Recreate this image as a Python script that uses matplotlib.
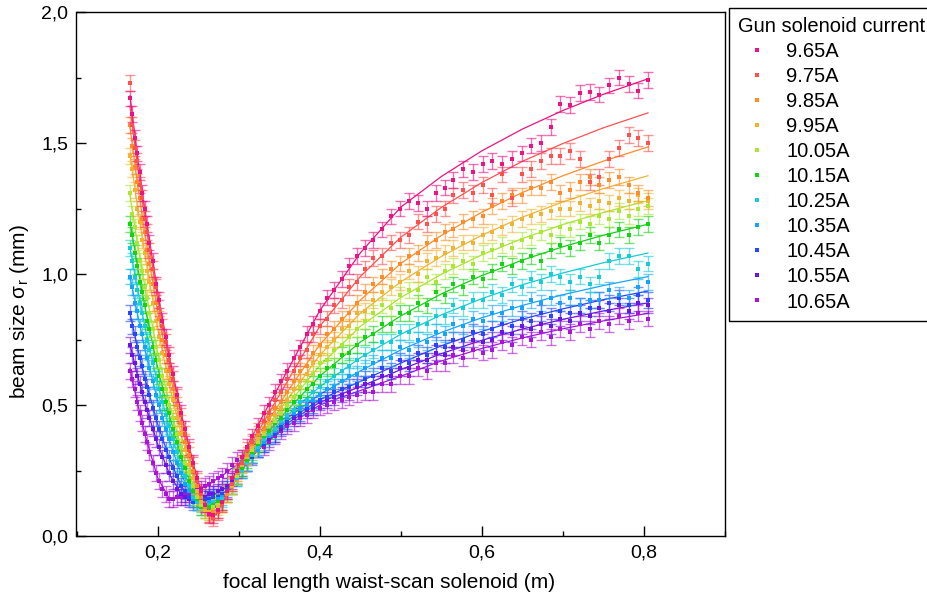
import matplotlib
matplotlib.use("Agg")
import matplotlib.pyplot as plt
from matplotlib.ticker import FixedLocator, MultipleLocator
from matplotlib.lines import Line2D

plt.rcParams['font.family'] = ['Liberation Sans', 'DejaVu Sans']
plt.rcParams['mathtext.fontset'] = 'custom'
plt.rcParams['mathtext.rm'] = 'Liberation Sans'

# ---------------- data ----------------
currents = ["9.65A", "9.75A", "9.85A", "9.95A", "10.05A", "10.15A",
            "10.25A", "10.35A", "10.45A", "10.55A", "10.65A"]
colors = ["#EB1482", "#FF5050", "#FF8C28", "#F0B432", "#AAE632", "#14D214",
          "#14CDD7", "#14A5FA", "#2846FA", "#6E14E1", "#AA14D7"]

x = [0.166, 0.169, 0.172, 0.175, 0.178, 0.181, 0.184, 0.187, 0.190, 0.194, 0.198, 0.202, 0.206, 0.210, 0.214,
     0.219, 0.224, 0.229, 0.234, 0.239, 0.244, 0.249, 0.254, 0.259, 0.264, 0.269, 0.274,
     0.280, 0.286, 0.292, 0.298, 0.304, 0.310, 0.317, 0.324, 0.331, 0.338, 0.345, 0.352,
     0.360, 0.368, 0.376, 0.384, 0.392, 0.400, 0.409, 0.418, 0.427, 0.436, 0.446, 0.456,
     0.466, 0.477, 0.488, 0.499, 0.510, 0.521, 0.532, 0.543, 0.554, 0.565, 0.577, 0.589, 0.601,
     0.613, 0.625, 0.637, 0.649, 0.661, 0.673, 0.685, 0.697, 0.709, 0.721, 0.733, 0.745, 0.757, 0.769, 0.781, 0.793, 0.805]

y_965 = [1.67, 1.61, 1.52, 1.46, 1.39, 1.31, 1.25, 1.19, 1.12, 1.05, 0.96, 0.90, 0.82, 0.76, 0.69,
         0.62, 0.54, 0.47, 0.41, 0.34, 0.28, 0.22, 0.17, 0.12, 0.085, 0.08, 0.10,
         0.13, 0.17, 0.22, 0.25, 0.30, 0.34, 0.38, 0.42, 0.47, 0.50, 0.55, 0.59,
         0.63, 0.68, 0.72, 0.77, 0.81, 0.86, 0.91, 0.94, 0.98, 1.03, 1.07, 1.10,
         1.13, 1.17, 1.22, 1.25, 1.28, 1.27, 1.25, 1.31, 1.33, 1.36, 1.40, 1.39, 1.42,
         1.43, 1.42, 1.44, 1.46, 1.49, 1.50, 1.56, 1.65, 1.645, 1.69, 1.695, 1.685, 1.72, 1.75, 1.725, 1.70, 1.74]
y_975 = [1.73, 1.57, 1.48, 1.43, 1.34, 1.29, 1.21, 1.16, 1.09, 1.02, 0.95, 0.87, 0.80, 0.74, 0.67,
         0.60, 0.53, 0.46, 0.39, 0.33, 0.27, 0.21, 0.16, 0.12, 0.08, 0.07, 0.09,
         0.12, 0.17, 0.20, 0.25, 0.28, 0.33, 0.36, 0.40, 0.44, 0.47, 0.52, 0.55,
         0.60, 0.63, 0.68, 0.71, 0.77, 0.80, 0.83, 0.88, 0.90, 0.95, 0.97, 1.02,
         1.06, 1.07, 1.12, 1.13, 1.15, 1.20, 1.19, 1.23, 1.25, 1.30, 1.32, 1.31, 1.34,
         1.30, 1.38, 1.29, 1.38, 1.40, 1.43, 1.45, 1.45, 1.47, 1.44, 1.35, 1.37, 1.44, 1.48, 1.53, 1.52, 1.50]
y_985 = [1.57, 1.49, 1.41, 1.35, 1.29, 1.21, 1.16, 1.09, 1.04, 0.96, 0.89, 0.83, 0.75, 0.69, 0.63,
         0.56, 0.50, 0.43, 0.36, 0.31, 0.25, 0.19, 0.15, 0.11, 0.08, 0.09, 0.10,
         0.12, 0.16, 0.20, 0.24, 0.28, 0.31, 0.35, 0.39, 0.41, 0.45, 0.49, 0.51,
         0.55, 0.59, 0.63, 0.65, 0.70, 0.73, 0.77, 0.79, 0.83, 0.85, 0.89, 0.93,
         0.96, 0.99, 1.02, 1.04, 1.07, 1.08, 1.12, 1.13, 1.16, 1.17, 1.20, 1.21, 1.22,
         1.26, 1.28, 1.30, 1.30, 1.33, 1.33, 1.35, 1.31, 1.32, 1.35, 1.37, 1.34, 1.36, 1.37, 1.34, 1.31, 1.29]
y_995 = [1.45, 1.40, 1.32, 1.25, 1.20, 1.13, 1.08, 1.01, 0.97, 0.89, 0.82, 0.76, 0.70, 0.63, 0.58,
         0.52, 0.45, 0.39, 0.33, 0.27, 0.22, 0.17, 0.13, 0.10, 0.09, 0.10, 0.11,
         0.12, 0.16, 0.19, 0.24, 0.27, 0.30, 0.34, 0.37, 0.40, 0.43, 0.46, 0.49,
         0.52, 0.56, 0.59, 0.62, 0.66, 0.69, 0.72, 0.75, 0.79, 0.80, 0.85, 0.86,
         0.90, 0.93, 0.95, 0.97, 1.01, 1.00, 1.05, 1.06, 1.08, 1.10, 1.12, 1.12, 1.15,
         1.16, 1.18, 1.19, 1.21, 1.22, 1.23, 1.24, 1.25, 1.25, 1.27, 1.26, 1.28, 1.27, 1.29, 1.28, 1.30, 1.28]
y_1005 = [1.31, 1.23, 1.18, 1.12, 1.05, 1.01, 0.95, 0.91, 0.85, 0.79, 0.72, 0.67, 0.61, 0.56, 0.50,
          0.45, 0.39, 0.34, 0.28, 0.24, 0.19, 0.15, 0.12, 0.10, 0.09, 0.11, 0.12,
          0.13, 0.16, 0.19, 0.23, 0.27, 0.30, 0.33, 0.36, 0.39, 0.42, 0.44, 0.47,
          0.50, 0.53, 0.57, 0.59, 0.62, 0.66, 0.67, 0.71, 0.73, 0.76, 0.79, 0.82,
          0.85, 0.88, 0.87, 0.92, 0.94, 0.94, 0.99, 0.97, 1.01, 1.03, 1.05, 1.04, 1.08,
          1.09, 1.11, 1.10, 1.13, 1.14, 1.16, 1.15, 1.18, 1.17, 1.20, 1.19, 1.22, 1.21, 1.24, 1.22, 1.25, 1.26]
y_1015 = [1.19, 1.15, 1.08, 1.03, 0.97, 0.93, 0.88, 0.82, 0.79, 0.72, 0.67, 0.61, 0.56, 0.51, 0.47,
          0.41, 0.36, 0.30, 0.26, 0.21, 0.17, 0.14, 0.11, 0.10, 0.11, 0.12, 0.13,
          0.13, 0.16, 0.19, 0.23, 0.26, 0.29, 0.32, 0.35, 0.38, 0.40, 0.43, 0.45,
          0.48, 0.51, 0.53, 0.56, 0.58, 0.61, 0.64, 0.65, 0.69, 0.70, 0.73, 0.76,
          0.77, 0.81, 0.81, 0.85, 0.85, 0.89, 0.88, 0.93, 0.92, 0.96, 0.95, 0.99, 0.98,
          1.01, 1.04, 1.03, 1.05, 1.07, 1.05, 1.09, 1.11, 1.10, 1.12, 1.15, 1.12, 1.15, 1.17, 1.15, 1.18, 1.19]
y_1025 = [1.10, 1.05, 0.99, 0.94, 0.89, 0.85, 0.80, 0.75, 0.71, 0.66, 0.60, 0.56, 0.51, 0.46, 0.42,
          0.37, 0.32, 0.27, 0.23, 0.19, 0.15, 0.13, 0.11, 0.11, 0.12, 0.13, 0.13,
          0.14, 0.17, 0.19, 0.22, 0.25, 0.28, 0.31, 0.34, 0.37, 0.39, 0.41, 0.44,
          0.46, 0.48, 0.51, 0.52, 0.55, 0.57, 0.59, 0.61, 0.63, 0.65, 0.67, 0.69,
          0.71, 0.74, 0.74, 0.78, 0.78, 0.81, 0.81, 0.84, 0.84, 0.88, 0.87, 0.90, 0.90,
          0.93, 0.92, 0.96, 0.95, 0.98, 0.97, 1.00, 0.99, 0.97, 0.99, 0.96, 0.99, 1.05, 1.07, 1.07, 1.02, 1.04]
y_1035 = [0.99, 0.95, 0.89, 0.86, 0.80, 0.77, 0.72, 0.68, 0.64, 0.59, 0.54, 0.50, 0.45, 0.41, 0.37,
          0.32, 0.28, 0.24, 0.20, 0.17, 0.14, 0.13, 0.12, 0.12, 0.13, 0.13, 0.14,
          0.15, 0.17, 0.19, 0.22, 0.25, 0.28, 0.31, 0.33, 0.36, 0.38, 0.40, 0.43,
          0.45, 0.47, 0.49, 0.50, 0.52, 0.54, 0.56, 0.57, 0.59, 0.61, 0.62, 0.64,
          0.66, 0.68, 0.68, 0.72, 0.71, 0.75, 0.74, 0.78, 0.77, 0.81, 0.80, 0.83, 0.82,
          0.85, 0.85, 0.87, 0.87, 0.90, 0.89, 0.91, 0.89, 0.91, 0.88, 0.90, 0.90, 0.94, 0.92, 0.91, 0.95, 0.97]
y_1045 = [0.85, 0.80, 0.77, 0.72, 0.68, 0.65, 0.60, 0.57, 0.54, 0.49, 0.45, 0.41, 0.37, 0.33, 0.30,
          0.26, 0.23, 0.19, 0.17, 0.15, 0.13, 0.13, 0.13, 0.14, 0.14, 0.15, 0.15,
          0.16, 0.18, 0.20, 0.23, 0.25, 0.28, 0.30, 0.33, 0.35, 0.38, 0.39, 0.42,
          0.44, 0.46, 0.47, 0.49, 0.50, 0.52, 0.53, 0.55, 0.56, 0.57, 0.58, 0.60,
          0.61, 0.64, 0.63, 0.67, 0.66, 0.70, 0.69, 0.73, 0.72, 0.75, 0.75, 0.78, 0.77,
          0.79, 0.81, 0.80, 0.83, 0.82, 0.85, 0.84, 0.86, 0.85, 0.88, 0.87, 0.90, 0.89, 0.91, 0.88, 0.92, 0.90]
y_1055 = [0.73, 0.69, 0.66, 0.61, 0.58, 0.55, 0.51, 0.48, 0.45, 0.41, 0.37, 0.34, 0.30, 0.27, 0.24,
          0.21, 0.18, 0.16, 0.15, 0.14, 0.14, 0.14, 0.15, 0.15, 0.16, 0.16, 0.17,
          0.18, 0.19, 0.21, 0.23, 0.26, 0.28, 0.31, 0.33, 0.35, 0.37, 0.39, 0.41,
          0.43, 0.45, 0.46, 0.48, 0.49, 0.51, 0.52, 0.53, 0.54, 0.55, 0.57, 0.58,
          0.58, 0.61, 0.61, 0.64, 0.64, 0.67, 0.67, 0.70, 0.69, 0.72, 0.71, 0.75, 0.74,
          0.75, 0.78, 0.77, 0.80, 0.79, 0.81, 0.80, 0.83, 0.82, 0.85, 0.84, 0.87, 0.86, 0.88, 0.86, 0.89, 0.88]
y_1065 = [0.63, 0.60, 0.56, 0.51, 0.47, 0.43, 0.39, 0.36, 0.32, 0.28, 0.24, 0.21, 0.18, 0.16, 0.14,
          0.14, 0.15, 0.15, 0.16, 0.16, 0.17, 0.18, 0.18, 0.19, 0.20, 0.21, 0.22,
          0.23, 0.25, 0.27, 0.29, 0.30, 0.30, 0.31, 0.33, 0.34, 0.36, 0.38, 0.40,
          0.42, 0.43, 0.45, 0.46, 0.48, 0.49, 0.50, 0.51, 0.52, 0.53, 0.54, 0.55,
          0.55, 0.58, 0.58, 0.61, 0.61, 0.64, 0.63, 0.66, 0.66, 0.69, 0.68, 0.71, 0.70,
          0.71, 0.74, 0.73, 0.76, 0.75, 0.78, 0.76, 0.79, 0.78, 0.81, 0.79, 0.82, 0.81, 0.84, 0.82, 0.85, 0.83]

y_err = 0.03

# fitted curves
fit_x = [0.166, 0.175, 0.185, 0.200, 0.215, 0.230, 0.245, 0.255, 0.265, 0.272, 0.280, 0.290, 0.300,
         0.315, 0.330, 0.360, 0.400, 0.450, 0.500, 0.550, 0.600, 0.650, 0.700, 0.750, 0.805]
fit_965 = [1.68, 1.456, 1.229, 0.933, 0.678, 0.457, 0.266, 0.157, 0.077, 0.08, 0.13, 0.20, 0.27,
           0.37, 0.46, 0.63, 0.86, 1.08, 1.255, 1.372, 1.470, 1.553, 1.624, 1.686, 1.745]
fit_975 = [1.64, 1.418, 1.197, 0.91, 0.662, 0.447, 0.26, 0.154, 0.077, 0.08, 0.125, 0.19, 0.26,
           0.35, 0.43, 0.59, 0.80, 0.99, 1.14, 1.254, 1.349, 1.430, 1.498, 1.558, 1.615]
fit_985 = [1.56, 1.35, 1.137, 0.859, 0.62, 0.414, 0.237, 0.138, 0.081, 0.085, 0.12, 0.185, 0.255,
           0.34, 0.41, 0.55, 0.73, 0.90, 1.04, 1.147, 1.236, 1.311, 1.375, 1.431, 1.485]
fit_995 = [1.46, 1.261, 1.06, 0.796, 0.57, 0.376, 0.21, 0.122, 0.086, 0.09, 0.12, 0.18, 0.25,
           0.33, 0.395, 0.52, 0.69, 0.85, 0.97, 1.067, 1.148, 1.217, 1.275, 1.326, 1.375]
fit_1005 = [1.30, 1.12, 0.94, 0.703, 0.50, 0.325, 0.18, 0.109, 0.095, 0.10, 0.125, 0.18, 0.245,
            0.325, 0.385, 0.50, 0.65, 0.80, 0.91, 0.999, 1.073, 1.135, 1.189, 1.235, 1.28]
fit_1015 = [1.20, 1.034, 0.865, 0.644, 0.455, 0.294, 0.164, 0.108, 0.102, 0.112, 0.13, 0.18, 0.24,
            0.315, 0.375, 0.48, 0.61, 0.74, 0.84, 0.924, 0.994, 1.053, 1.104, 1.148, 1.19]
fit_1025 = [1.10, 0.947, 0.789, 0.583, 0.407, 0.26, 0.148, 0.111, 0.115, 0.128, 0.14, 0.18, 0.235,
            0.305, 0.365, 0.46, 0.57, 0.68, 0.77, 0.844, 0.906, 0.959, 1.004, 1.043, 1.08]
fit_1035 = [0.99, 0.85, 0.706, 0.518, 0.359, 0.229, 0.138, 0.122, 0.126, 0.136, 0.145, 0.18, 0.23,
            0.30, 0.355, 0.45, 0.54, 0.63, 0.71, 0.777, 0.833, 0.880, 0.921, 0.956, 0.99]
fit_1045 = [0.85, 0.722, 0.594, 0.428, 0.292, 0.186, 0.132, 0.135, 0.14, 0.148, 0.16, 0.19, 0.235,
            0.30, 0.35, 0.44, 0.52, 0.59, 0.66, 0.726, 0.781, 0.828, 0.867, 0.902, 0.935]
fit_1055 = [0.73, 0.616, 0.50, 0.352, 0.234, 0.157, 0.142, 0.148, 0.155, 0.163, 0.175, 0.20, 0.24,
            0.30, 0.345, 0.43, 0.51, 0.57, 0.635, 0.696, 0.747, 0.790, 0.827, 0.859, 0.89]
fit_1065 = [0.64, 0.51, 0.381, 0.223, 0.14, 0.15, 0.168, 0.185, 0.20, 0.215, 0.23, 0.255, 0.275,
            0.31, 0.345, 0.42, 0.50, 0.555, 0.61, 0.668, 0.716, 0.756, 0.791, 0.821, 0.85]

x_ticks = [0.2, 0.4, 0.6, 0.8]
x_ticklabels = ["0,2", "0,4", "0,6", "0,8"]
y_ticks = [0.0, 0.5, 1.0, 1.5, 2.0]
y_ticklabels = ["0,0", "0,5", "1,0", "1,5", "2,0"]

series = list(zip(currents, colors,
                  [y_965, y_975, y_985, y_995, y_1005, y_1015, y_1025, y_1035, y_1045, y_1055, y_1065],
                  [fit_965, fit_975, fit_985, fit_995, fit_1005, fit_1015, fit_1025, fit_1035,
                   fit_1045, fit_1055, fit_1065]))

# ---------------- figure ----------------
fig = plt.figure(figsize=(9.28, 6.05), dpi=100)
ax = fig.add_axes([76.5 / 928, 69 / 605, (725 - 76.5) / 928, (536 - 12) / 605])

for label, color, ys, fy in reversed(series):
    ax.plot(fit_x, fy, color=color, lw=0.9, zorder=2)
    ax.errorbar(x, ys, yerr=y_err, fmt='none', ecolor=color, elinewidth=1.0,
                capsize=3.4, capthick=1.0, alpha=0.6, zorder=3)
    ax.plot(x, ys, 's', color=color, ms=3.4, mew=0, zorder=4)

ax.set_xlim(0.1, 0.9)
ax.set_ylim(0.0, 2.0)
ax.xaxis.set_major_locator(FixedLocator(x_ticks))
ax.set_xticklabels(x_ticklabels)
ax.xaxis.set_minor_locator(MultipleLocator(0.1))
ax.yaxis.set_major_locator(FixedLocator(y_ticks))
ax.set_yticklabels(y_ticklabels)
ax.yaxis.set_minor_locator(MultipleLocator(0.25))
ax.tick_params(which='both', direction='in', top=False, right=False, width=1.0, labelsize=14)
ax.tick_params(which='major', length=7, pad=6)
ax.tick_params(which='minor', length=3.5)
for s in ax.spines.values():
    s.set_linewidth(1.0)

ax.set_xlabel('focal length waist-scan solenoid (m)', fontsize=15)
ax.set_ylabel('beam size σ$_\\mathregular{r}$ (mm)', fontsize=15)
ax.xaxis.set_label_coords((389 - 76.5) / 648.5, -(583 - 536) / 524, transform=ax.transAxes)
ax.yaxis.set_label_coords(-(76.5 - 20) / 648.5, (536 - 312) / 524, transform=ax.transAxes)
ax.xaxis.label.set_va('center')
ax.yaxis.label.set_va('center')

handles = [Line2D([], [], ls='none', marker='s', ms=3.2, mew=0, color=c) for c in colors]
leg = fig.legend(handles, currents, title='Gun solenoid current', loc='upper left',
                 bbox_to_anchor=(729 / 928, 1 - 8 / 605), frameon=True, fancybox=False,
                 edgecolor='black', framealpha=1, fontsize=14.5, title_fontsize=14.5,
                 alignment='left', handlelength=1.9, handletextpad=0.5,
                 labelspacing=0.3, borderpad=0.45, borderaxespad=0)
leg.get_frame().set_linewidth(1.0)

fig.savefig('out.png', dpi=100)
